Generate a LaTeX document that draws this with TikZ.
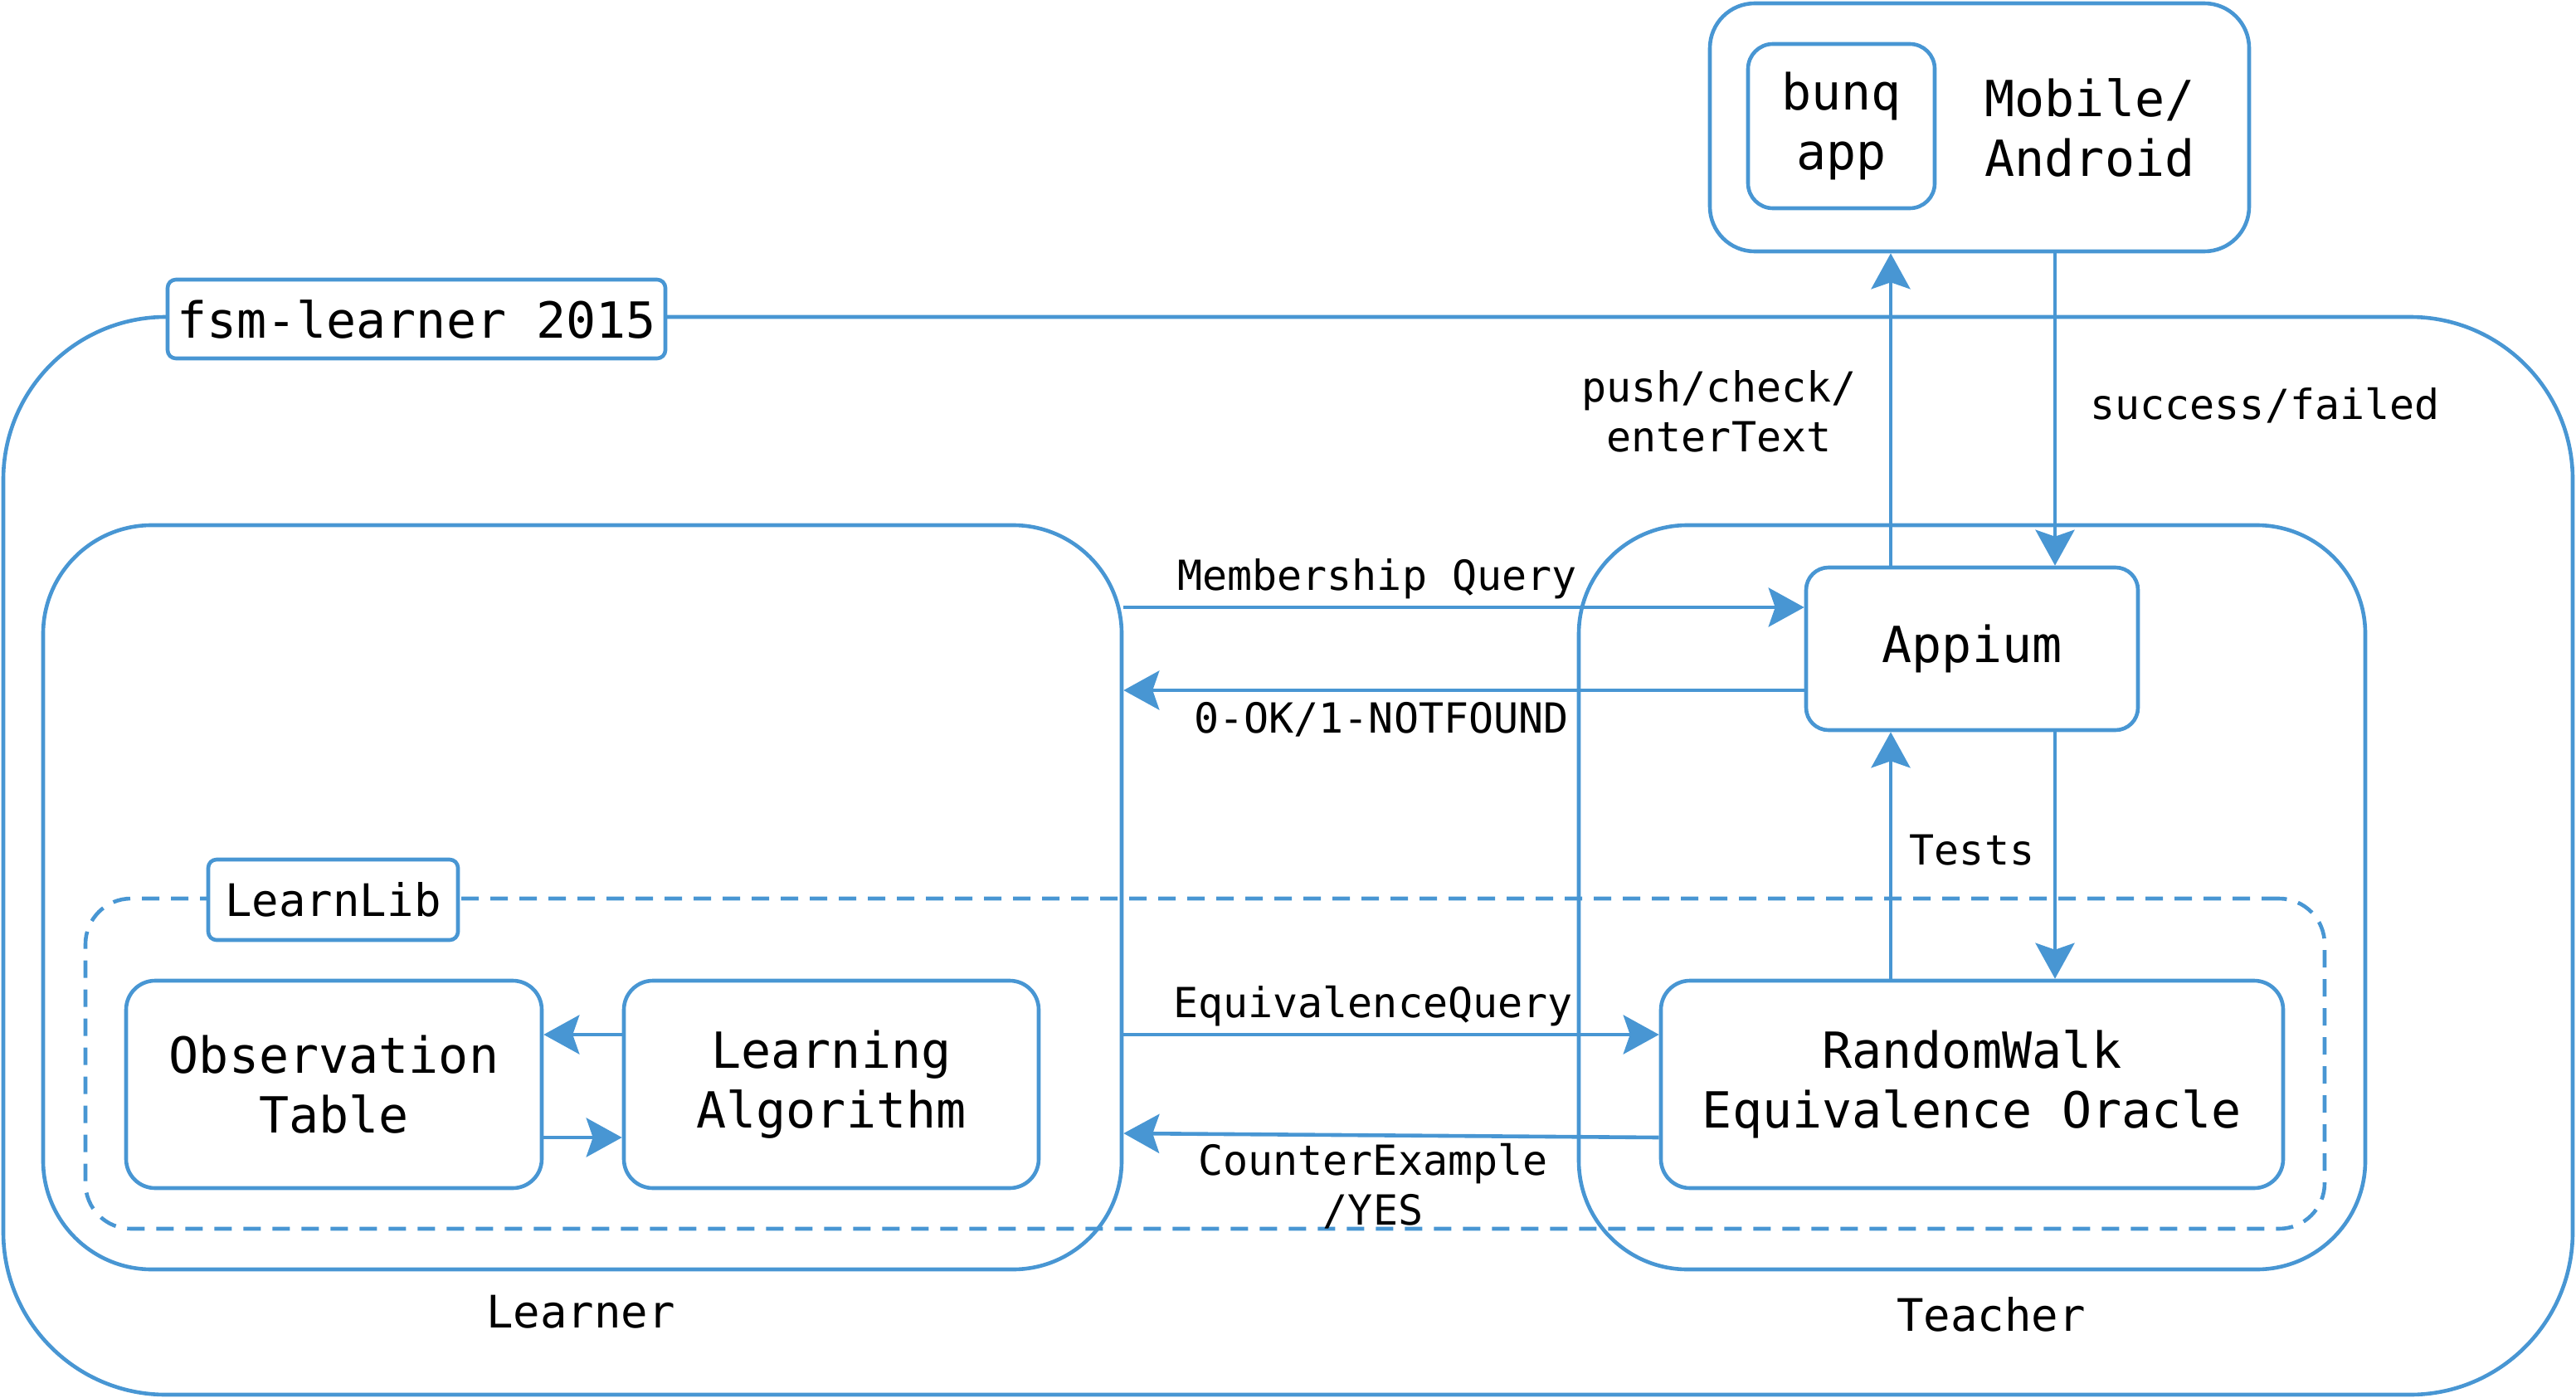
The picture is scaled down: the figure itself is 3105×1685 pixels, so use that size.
\documentclass[tikz,border=0pt]{standalone}
\usepackage{fontspec}
\newfontfamily\dvm{DejaVu Sans Mono}
\usetikzlibrary{arrows.meta}
\definecolor{bl}{RGB}{72,150,211}
\newcommand\fntA{\dvm\fontsize{30}{36}\selectfont}
\newcommand\fntB{\dvm\fontsize{25}{30}\selectfont}
\newcommand\fntC{\dvm\fontsize{27}{32.4}\selectfont}
\begin{document}
\begin{tikzpicture}[x=0.5pt,y=-0.5pt,
  arr/.style={draw=bl,line width=2.3pt,-{Stealth[length=21.5pt,width=23.5pt,inset=4pt]}},
  box/.style={draw=bl,line width=2.3pt,inner sep=0pt,align=center,font=\fntA},
  dbox/.style={draw=bl,line width=2.3pt,dash pattern=on 10.5pt off 7pt,inner sep=0pt},
  tag/.style={draw=bl,line width=2.3pt,fill=white,rounded corners=5pt,inner sep=0pt},
  lbl/.style={inner sep=0pt,font=\fntB,align=center}]
\useasboundingbox (0,0) rectangle (3105,1685);
% containers
\node[box,rounded corners=98pt,minimum width=1548.5pt,minimum height=649.5pt] (outer) at (1552.5,1031.5) {};
\node[box,rounded corners=65.5pt,minimum width=650pt,minimum height=448.5pt] (learner) at (702,1081.5) {};
\node[box,rounded corners=65.5pt,minimum width=474pt,minimum height=448.5pt] (teacher) at (2377,1081.5) {};
\node[dbox,rounded corners=27.5pt,minimum width=1349.5pt,minimum height=199pt] (learnlib) at (1452.5,1282) {};
\node[tag,font=\fntA,minimum width=300pt,minimum height=47.5pt] (fsm) at (502,384.5) {fsm-learner 2015};
\node[tag,font=\fntC,minimum width=150.5pt,minimum height=48.5pt] (lltag) at (401.5,1084.5) {LearnLib};
\node[font=\fntC,inner sep=0pt,anchor=base] (learnerlbl) at (700,1600) {Learner};
\node[font=\fntC,inner sep=0pt,anchor=base] (teacherlbl) at (2400,1604) {Teacher};
% mobile
\node[box,rounded corners=27pt,minimum width=325pt,minimum height=149.5pt] (mobile) at (2386,153.5) {};
\node[box,rounded corners=15pt,minimum width=112.5pt,minimum height=99pt] (bunq) at (2219.5,152) {bunq\\app};
\node[font=\fntA,align=left,inner sep=0pt] (mobtxt) at (2519,153.5) {Mobile/\\Android};
% components
\node[box,rounded corners=13.5pt,minimum width=200pt,minimum height=98pt] (appium) at (2377,782) {Appium};
\node[box,rounded corners=17.5pt,minimum width=250.5pt,minimum height=125pt] (obs) at (402.5,1307) {Observation\\Table};
\node[box,rounded corners=17.5pt,minimum width=250pt,minimum height=125pt] (learn) at (1002,1307) {Learning\\Algorithm};
\node[box,rounded corners=17.5pt,minimum width=375pt,minimum height=125pt] (rw) at (2377,1307) {RandomWalk\\Equivalence Oracle};
% helper coordinates
\coordinate (ymq) at (0,732);
\coordinate (yok) at (0,832);
\coordinate (yeq) at (0,1247);
\coordinate (yce1) at (0,1371);
\coordinate (yce2) at (0,1366);
\coordinate (xl) at (2279,0);
\coordinate (xr) at (2477,0);
% connectors
\draw[arr] (learner.east |- ymq) -- (appium.west |- ymq);
\draw[arr] (appium.west |- yok) -- (learner.east |- yok);
\draw[arr] (learner.east |- yeq) -- (rw.west |- yeq);
\draw[arr] (rw.west |- yce1) -- (learner.east |- yce2);
\draw[arr] (learn.west |- yeq) -- (obs.east |- yeq);
\draw[arr] (obs.east |- yce1) -- (learn.west |- yce1);
\draw[arr] (appium.north -| xl) -- (mobile.south -| xl);
\draw[arr] (mobile.south -| xr) -- (appium.north -| xr);
\draw[arr] (rw.north -| xl) -- (appium.south -| xl);
\draw[arr] (appium.south -| xr) -- (rw.north -| xr);
% connector labels
\node[lbl,anchor=base] (lmq) at (1660,711) {Membership Query};
\node[lbl,anchor=base] (lok) at (1665,883) {0-OK/1-NOTFOUND};
\node[lbl,anchor=base] (leq) at (1655,1226) {EquivalenceQuery};
\node[lbl] (lce) at (1655,1430) {CounterExample\\/YES};
\node[lbl] (lpush) at (2072,496) {push/check/\\enterText};
\node[lbl,anchor=base] (lsucc) at (2730,505) {success/failed};
\node[lbl,anchor=base] (ltests) at (2377,1042) {Tests};
\end{tikzpicture}
\end{document}
